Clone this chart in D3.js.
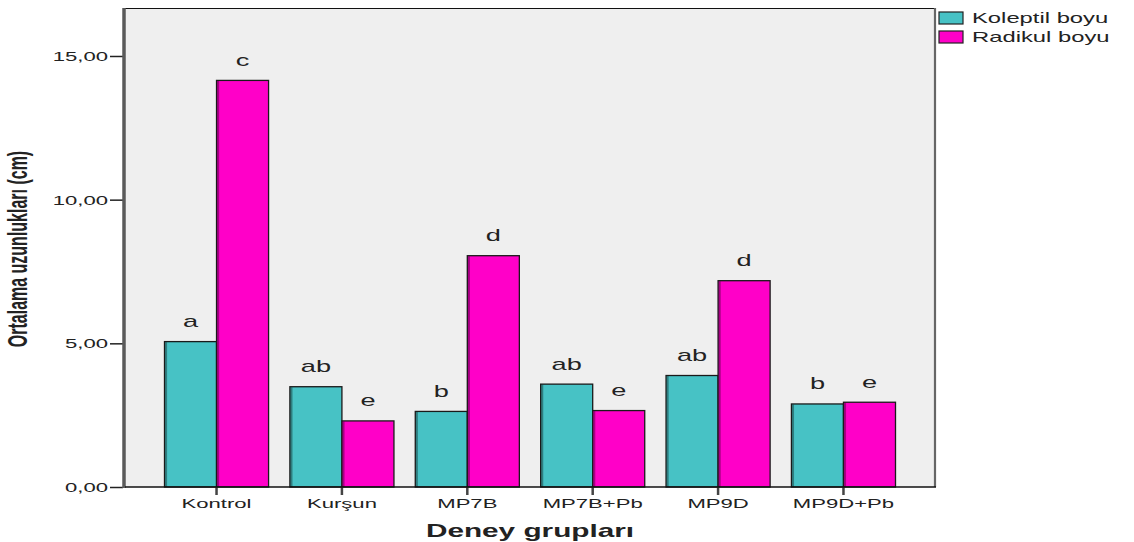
<!DOCTYPE html>
<html>
<head>
<meta charset="utf-8">
<script src="https://cdn.jsdelivr.net/npm/d3@7"></script>
<style>
  html, body { margin: 0; padding: 0; background: #fff; }
  svg { display: block; }
  text { font-family: "Liberation Sans", Arial, sans-serif; fill: #222; }
</style>
</head>
<body>
<svg id="chart" width="1134" height="542"></svg>
<script>
// Deney grupları ve ortalama uzunluklar (cm)
const groups = ["Kontrol", "Kurşun", "MP7B", "MP7B+Pb", "MP9D", "MP9D+Pb"];
const seriesNames = ["Koleptil boyu", "Radikul boyu"];
const koleptil = [5.06, 3.49, 2.63, 3.58, 3.88, 2.89];
const radikul = [14.15, 2.30, 8.05, 2.66, 7.18, 2.95];
const koleptilLetters = ["a", "ab", "b", "ab", "ab", "b"];
const radikulLetters = ["c", "e", "d", "e", "d", "e"];
const yTicks = [0, 5, 10, 15];
const colors = ["#47c2c5", "#ff00c8"];

const svg = d3.select("#chart");
const plotLeft = 125, plotRight = 935, plotTop = 8, plotBottom = 487;
const sx = 1.7; // horizontal stretch of the lettering

const x0 = d3.scaleBand().domain(groups).range([plotLeft, plotRight])
  .paddingInner(0.17).paddingOuter(0.315);
const x1 = d3.scaleBand().domain(seriesNames).range([0, x0.bandwidth()]);
const y = d3.scaleLinear().domain([0, 16.67]).range([plotBottom, plotTop]);
const color = d3.scaleOrdinal().domain(seriesNames).range(colors);

// plot background
svg.append("rect")
  .attr("x", plotLeft).attr("y", plotTop)
  .attr("width", plotRight - plotLeft).attr("height", plotBottom - plotTop)
  .attr("fill", "#efefef");

// frame: top and right edges
svg.append("line").attr("x1", plotLeft).attr("x2", plotRight).attr("y1", plotTop + 0.5).attr("y2", plotTop + 0.5)
  .attr("stroke", "#111").attr("stroke-width", 1.2);
svg.append("line").attr("x1", plotRight).attr("x2", plotRight).attr("y1", plotTop).attr("y2", plotBottom)
  .attr("stroke", "#666").attr("stroke-width", 2.2);

// bars
const rows = groups.map((g, i) => ({
  group: g,
  values: [
    { series: seriesNames[0], value: koleptil[i], letter: koleptilLetters[i] },
    { series: seriesNames[1], value: radikul[i], letter: radikulLetters[i] }
  ]
}));

const gGroups = svg.append("g").selectAll("g").data(rows).join("g")
  .attr("transform", d => `translate(${x0(d.group)},0)`);

gGroups.selectAll("rect.bar").data(d => d.values).join("rect")
  .attr("class", "bar")
  .attr("x", d => x1(d.series))
  .attr("y", d => y(d.value))
  .attr("width", x1.bandwidth())
  .attr("height", d => y(0) - y(d.value))
  .attr("fill", d => color(d.series))
  .attr("stroke", "#1a1a1a")
  .attr("stroke-width", 1.3);

// darker left edge on each bar
gGroups.selectAll("rect.edge").data(d => d.values).join("rect")
  .attr("class", "edge")
  .attr("x", d => x1(d.series) + 0.6)
  .attr("y", d => y(d.value) + 0.6)
  .attr("width", 2)
  .attr("height", d => y(0) - y(d.value) - 0.6)
  .attr("fill", "#000").attr("opacity", 0.35);

// significance letters above each bar
gGroups.selectAll("text.letter").data(d => d.values).join("text")
  .attr("class", "letter")
  .attr("text-anchor", "middle")
  .attr("font-size", 16)
  .attr("fill", "#333")
  .attr("transform", d => `translate(${x1(d.series) + x1.bandwidth() / 2},${y(d.value) - 14.5}) scale(${sx},1)`)
  .text(d => d.letter);

// y axis
const yAxis = svg.append("g").attr("transform", `translate(${plotLeft - 2},0)`)
  .call(d3.axisLeft(y).tickValues(yTicks).tickSize(13).tickFormat(d => d.toFixed(2).replace(".", ",")));
yAxis.select(".domain").remove();
yAxis.selectAll(".tick line").attr("stroke", "#222").attr("stroke-width", 1.5);
yAxis.selectAll(".tick text")
  .attr("x", 0).attr("dy", null)
  .attr("font-size", 13)
  .attr("fill", "#333")
  .attr("text-anchor", "end")
  .attr("transform", `translate(-15,4.5) scale(${sx},1)`);

svg.append("line").attr("x1", plotLeft - 1).attr("x2", plotLeft - 1).attr("y1", plotTop).attr("y2", plotBottom + 1)
  .attr("stroke", "#5a5a5a").attr("stroke-width", 3.5);

// x axis
const xAxis = svg.append("g").attr("transform", `translate(0,${plotBottom})`)
  .call(d3.axisBottom(x0).tickSize(8));
xAxis.select(".domain").remove();
xAxis.selectAll(".tick line").attr("stroke", "#444").attr("stroke-width", 2.5);
xAxis.selectAll(".tick text")
  .attr("y", 0).attr("dy", null)
  .attr("font-size", 13)
  .attr("fill", "#222")
  .attr("transform", `translate(0,21) scale(${sx},1)`);
svg.append("line").attr("x1", plotLeft).attr("x2", plotRight + 1).attr("y1", plotBottom).attr("y2", plotBottom)
  .attr("stroke", "#111").attr("stroke-width", 1.6);

// axis titles
svg.append("text")
  .attr("text-anchor", "middle")
  .attr("font-size", 17.5)
  .attr("font-weight", "bold")
  .attr("fill", "#111")
  .attr("transform", `translate(${(plotLeft + plotRight) / 2},537) scale(${sx},1)`)
  .text("Deney grupları");

svg.append("text")
  .attr("text-anchor", "middle")
  .attr("font-size", 16)
  .attr("font-weight", "bold")
  .attr("fill", "#111")
  .attr("transform", `translate(27,249) scale(${sx},1) rotate(-90)`)
  .text("Ortalama uzunlukları (cm)");

// legend
const legend = svg.append("g").selectAll("g").data(seriesNames).join("g")
  .attr("transform", (d, i) => `translate(939,${12 + i * 19})`);
legend.append("rect")
  .attr("width", 24).attr("height", 12)
  .attr("fill", d => color(d))
  .attr("stroke", "#222").attr("stroke-width", 1.2);
legend.append("text")
  .attr("font-size", 14)
  .attr("fill", "#222")
  .attr("transform", `translate(33,11) scale(${sx},1)`)
  .text(d => d);
</script>
</body>
</html>
